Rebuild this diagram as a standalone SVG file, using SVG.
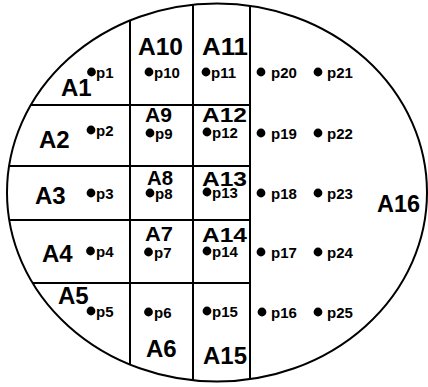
<svg xmlns="http://www.w3.org/2000/svg" width="428" height="387" viewBox="0 0 428 387">
<style>
.ln{stroke:#000;stroke-width:2;fill:none}
.a{font-family:"Liberation Sans",Arial,sans-serif;font-size:24px;font-weight:bold;fill:#000}
.s{font-size:20px}
.p{font-family:"Liberation Sans",Arial,sans-serif;font-size:15px;font-weight:bold;fill:#000}
.d{fill:#000}
</style>
<rect width="428" height="387" fill="#fff"/>
<g id="connectors">
<ellipse class="ln" cx="217" cy="192.5" rx="210" ry="189"/>
<line class="ln" x1="130" y1="20.5" x2="130" y2="364.5"/>
<line class="ln" x1="193" y1="4.7" x2="193" y2="380.3"/>
<line class="ln" x1="250" y1="5.8" x2="250" y2="379.2"/>
<line class="ln" x1="31" y1="105" x2="250" y2="105"/>
<line class="ln" x1="9" y1="166" x2="250" y2="166"/>
<line class="ln" x1="9" y1="220" x2="250" y2="220"/>
<line class="ln" x1="33" y1="283" x2="250" y2="283"/>
</g>
<g id="A1"><text class="a" x="61" y="96">A1</text><circle class="d" cx="91.5" cy="72" r="4.4"/><text class="p" x="96" y="78">p1</text></g>
<g id="A2"><text class="a" x="39" y="148">A2</text><circle class="d" cx="91" cy="130" r="4.4"/><text class="p" x="96" y="136">p2</text></g>
<g id="A3"><text class="a" x="35" y="204">A3</text><circle class="d" cx="91" cy="193" r="4.4"/><text class="p" x="96" y="199">p3</text></g>
<g id="A4"><text class="a" x="42" y="262">A4</text><circle class="d" cx="90.5" cy="251" r="4.4"/><text class="p" x="96" y="257">p4</text></g>
<g id="A5"><text class="a" x="58" y="304">A5</text><circle class="d" cx="91" cy="311" r="4.4"/><text class="p" x="96" y="317">p5</text></g>
<g id="A6"><circle class="d" cx="148.5" cy="312" r="4.4"/><text class="p" x="154" y="318">p6</text><text class="a" x="146" y="357">A6</text></g>
<g id="A7"><text class="a s" x="145" y="241" textLength="28" lengthAdjust="spacingAndGlyphs">A7</text><circle class="d" cx="148.5" cy="252" r="4.4"/><text class="p" x="154" y="258">p7</text></g>
<g id="A8"><text class="a s" x="147" y="185" textLength="26" lengthAdjust="spacingAndGlyphs">A8</text><circle class="d" cx="150" cy="193" r="4.4"/><text class="p" x="155" y="199">p8</text></g>
<g id="A9"><text class="a s" x="145" y="122" textLength="27" lengthAdjust="spacingAndGlyphs">A9</text><circle class="d" cx="150" cy="133" r="4.4"/><text class="p" x="155" y="139">p9</text></g>
<g id="A10"><text class="a" x="138" y="55" textLength="45" lengthAdjust="spacingAndGlyphs">A10</text><circle class="d" cx="149" cy="72" r="4.4"/><text class="p" x="154" y="78">p10</text></g>
<g id="A11"><text class="a" x="202" y="55" textLength="46" lengthAdjust="spacingAndGlyphs">A11</text><circle class="d" cx="206" cy="72" r="4.4"/><text class="p" x="211" y="78">p11</text></g>
<g id="A12"><text class="a s" x="202" y="122" textLength="45" lengthAdjust="spacingAndGlyphs">A12</text><circle class="d" cx="207" cy="132" r="4.4"/><text class="p" x="212" y="138">p12</text></g>
<g id="A13"><text class="a s" x="202" y="186" textLength="45" lengthAdjust="spacingAndGlyphs">A13</text><circle class="d" cx="207" cy="192" r="4.4"/><text class="p" x="212" y="198">p13</text></g>
<g id="A14"><text class="a s" x="202" y="242" textLength="45" lengthAdjust="spacingAndGlyphs">A14</text><circle class="d" cx="207" cy="251" r="4.4"/><text class="p" x="212" y="257">p14</text></g>
<g id="A15"><circle class="d" cx="207" cy="311" r="4.4"/><text class="p" x="212" y="317">p15</text><text class="a" x="203" y="364" textLength="44" lengthAdjust="spacingAndGlyphs">A15</text></g>
<g id="A16">
<text class="a" x="377" y="212" textLength="43" lengthAdjust="spacingAndGlyphs">A16</text>
<circle class="d" cx="261" cy="72" r="4.4"/><text class="p" x="271" y="78">p20</text>
<circle class="d" cx="318" cy="72" r="4.4"/><text class="p" x="327" y="78">p21</text>
<circle class="d" cx="261" cy="133" r="4.4"/><text class="p" x="271" y="139">p19</text>
<circle class="d" cx="318" cy="133" r="4.4"/><text class="p" x="327" y="139">p22</text>
<circle class="d" cx="261" cy="193" r="4.4"/><text class="p" x="271" y="199">p18</text>
<circle class="d" cx="318" cy="193" r="4.4"/><text class="p" x="327" y="199">p23</text>
<circle class="d" cx="261" cy="252" r="4.4"/><text class="p" x="271" y="258">p17</text>
<circle class="d" cx="318" cy="252" r="4.4"/><text class="p" x="327" y="258">p24</text>
<circle class="d" cx="262" cy="312" r="4.4"/><text class="p" x="271" y="318">p16</text>
<circle class="d" cx="318" cy="312" r="4.4"/><text class="p" x="327" y="318">p25</text>
</g>
</svg>
